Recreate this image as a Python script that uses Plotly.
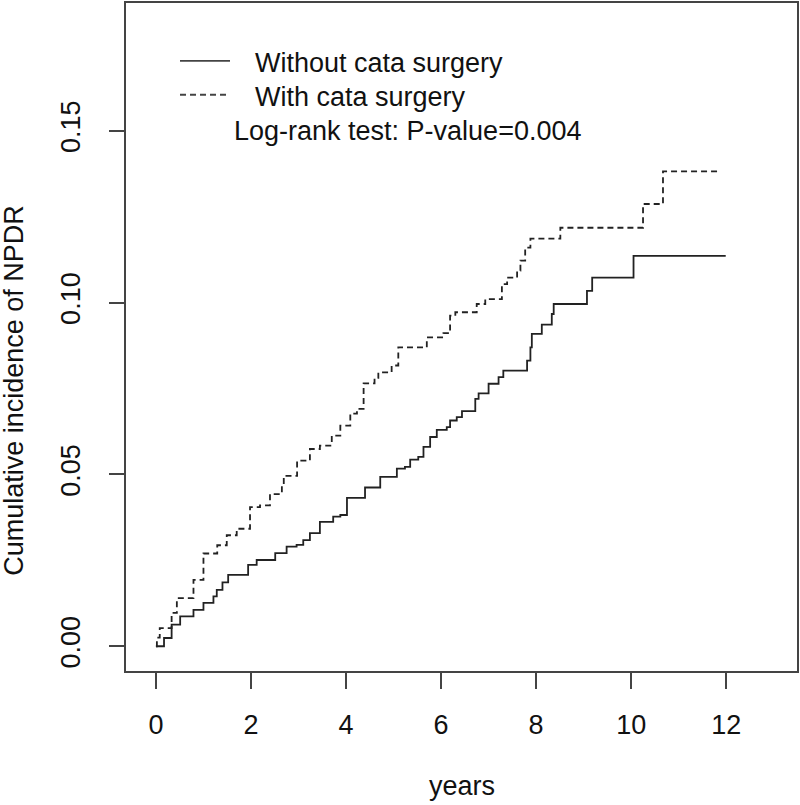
import plotly.graph_objects as go

# Step curves (time in years, cumulative incidence after each step)
without_t = [0, 0.17, 0.33, 0.51, 0.79, 1.00, 1.21, 1.28, 1.40, 1.52, 1.94, 2.12, 2.51, 2.75, 2.96,
             3.10, 3.24, 3.45, 3.73, 3.88, 4.02, 4.40, 4.72, 5.07, 5.24, 5.35, 5.52, 5.63, 5.77,
             5.91, 6.12, 6.19, 6.33, 6.44, 6.72, 6.79, 7.00, 7.21, 7.31, 7.81, 7.88, 7.91, 8.12,
             8.33, 8.37, 9.07, 9.18, 10.05, 11.99]
without_y = [0, 0.0024, 0.0063, 0.0087, 0.0106, 0.0126, 0.0145, 0.0164, 0.0186, 0.0208, 0.0237,
             0.0251, 0.0271, 0.0290, 0.0295, 0.0309, 0.0329, 0.0362, 0.0377, 0.0382, 0.0432,
             0.0462, 0.0493, 0.0517, 0.0522, 0.0543, 0.0551, 0.0580, 0.0609, 0.0630, 0.0638,
             0.0657, 0.0667, 0.0684, 0.0720, 0.0736, 0.0764, 0.0783, 0.0802, 0.0831, 0.0870,
             0.0909, 0.0936, 0.0967, 0.0996, 0.1034, 0.1073, 0.1136, 0.1136]

with_t = [0, 0.02, 0.08, 0.33, 0.44, 0.79, 1.00, 1.29, 1.49, 1.70, 1.98, 2.19, 2.40, 2.65, 2.69,
          2.97, 3.24, 3.45, 3.70, 3.88, 4.09, 4.23, 4.37, 4.60, 4.68, 4.96, 5.10, 5.70, 6.05,
          6.19, 6.30, 6.75, 6.93, 7.28, 7.39, 7.60, 7.67, 7.77, 7.88, 8.51, 10.25, 10.67, 11.88]
with_y = [0, 0.0025, 0.0053, 0.0097, 0.0140, 0.0193, 0.0270, 0.0294, 0.0323, 0.0342, 0.0405,
          0.0410, 0.0443, 0.0467, 0.0496, 0.0540, 0.0574, 0.0584, 0.0613, 0.0642, 0.0677,
          0.0691, 0.0765, 0.0781, 0.0797, 0.0817, 0.0870, 0.0899, 0.0911, 0.0962, 0.0972,
          0.0996, 0.1010, 0.1054, 0.1073, 0.1093, 0.1122, 0.1160, 0.1186, 0.1218, 0.1287,
          0.1382, 0.1382]

x_ticks = [0, 2, 4, 6, 8, 10, 12]
y_ticks = [0.00, 0.05, 0.10, 0.15]
y_ticklabels = ["0.00", "0.05", "0.10", "0.15"]

series_names = ["Without cata surgery", "With cata surgery"]
annot_text = "Log-rank test: P-value=0.004"
x_title = "years"
y_title = "Cumulative incidence of NPDR"

LINE = "#222222"
FONT = "Liberation Sans, Arial, sans-serif"
FS = 27

fig = go.Figure()
fig.add_trace(go.Scatter(x=without_t, y=without_y, mode="lines", name=series_names[0],
                         line=dict(color=LINE, width=1.8, shape="hv")))
fig.add_trace(go.Scatter(x=with_t, y=with_y, mode="lines", name=series_names[1],
                         line=dict(color=LINE, width=1.8, shape="hv", dash="6px,4px")))

L, R, T, B = 126, 3, 1, 134
W, H = 800, 805
pw, ph = W - L - R, H - T - B


def px(x):
    return (x - L) / pw


def py(y):
    return (H - B - y) / ph


# manual legend (R-style)
fig.add_shape(type="line", xref="paper", yref="paper", x0=px(180), x1=px(230), y0=py(59), y1=py(59),
              line=dict(color="#444444", width=1.8))
fig.add_shape(type="line", xref="paper", yref="paper", x0=px(180), x1=px(230), y0=py(93), y1=py(93),
              line=dict(color="#444444", width=1.8, dash="6px,4px"))
fig.add_annotation(xref="paper", yref="paper", x=px(253), y=py(61), text=series_names[0],
                   showarrow=False, xanchor="left", yanchor="middle", font=dict(size=FS, color="#111", family=FONT))
fig.add_annotation(xref="paper", yref="paper", x=px(253), y=py(95), text=series_names[1],
                   showarrow=False, xanchor="left", yanchor="middle", font=dict(size=FS, color="#111", family=FONT))
fig.add_annotation(xref="paper", yref="paper", x=px(232), y=py(129), text=annot_text,
                   showarrow=False, xanchor="left", yanchor="middle", font=dict(size=FS, color="#111", family=FONT))

# axis titles
fig.add_annotation(xref="paper", yref="paper", x=0.5, y=py(786), text=x_title, showarrow=False,
                   xanchor="center", yanchor="middle", font=dict(size=FS, color="#111", family=FONT))
fig.add_annotation(xref="paper", yref="paper", x=px(14), y=py(390), text=y_title, showarrow=False,
                   textangle=-90, xanchor="center", yanchor="middle",
                   font=dict(size=FS, color="#111", family=FONT))

fig.update_layout(
    width=W, height=H, margin=dict(l=L, r=R, t=T, b=B),
    paper_bgcolor="white", plot_bgcolor="white", showlegend=False,
    font=dict(family=FONT, size=FS, color="#111"),
)
fig.update_xaxes(range=[-0.63, 13.49], tickvals=x_ticks, ticks="outside", ticklen=16, tickwidth=1.5,
                 tickcolor="#444", showgrid=False, zeroline=False, showline=True, mirror=True,
                 linecolor="#444", linewidth=1.6, ticklabelstandoff=13, tickfont=dict(size=FS))
fig.update_yaxes(range=[-0.0072, 0.1872], tickvals=y_ticks, ticktext=y_ticklabels, tickangle=-90,
                 ticks="outside", ticklen=15, tickwidth=1.5, tickcolor="#444", showgrid=False,
                 zeroline=False, showline=True, mirror=True, linecolor="#444", linewidth=1.6,
                 ticklabelstandoff=18, tickfont=dict(size=FS))

fig.write_html("out.html", config={"displayModeBar": False},
               post_script="document.body.style.margin='0';document.body.style.overflow='hidden';")
